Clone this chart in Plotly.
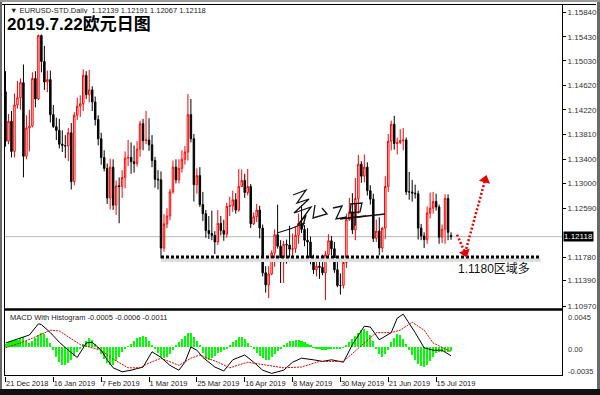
import plotly.graph_objects as go

# ---------------- data ----------------
date_tick_idx = [0, 16, 32, 48, 64, 80, 96, 112, 128, 144]
date_labels = ["21 Dec 2018", "16 Jan 2019", "7 Feb 2019", "1 Mar 2019", "25 Mar 2019",
               "16 Apr 2019", "8 May 2019", "30 May 2019", "21 Jun 2019", "15 Jul 2019"]

opens = [1.1452,1.1370,1.1403,1.1353,1.1430,1.1442,1.1467,1.1345,1.1392,1.1395,
         1.1474,1.1440,1.1545,1.1502,1.1468,1.1472,1.1414,1.1394,1.1388,1.1365,
         1.1363,1.1362,1.1384,1.1303,1.1413,1.1428,1.1432,1.1479,1.1447,1.1455,
         1.1435,1.1406,1.1374,1.1343,1.1325,1.1276,1.1327,1.1264,1.1296,1.1295,
         1.1310,1.1342,1.1343,1.1336,1.1333,1.1357,1.1399,1.1371,1.1372,1.1364,
         1.1338,1.1307,1.1306,1.1193,1.1233,1.1246,1.1286,1.1327,1.1306,1.1325,
         1.1340,1.1352,1.1414,1.1374,1.1298,1.1313,1.1265,1.1250,1.1222,1.1217,
         1.1214,1.1203,1.1234,1.1222,1.1216,1.1262,1.1263,1.1273,1.1256,1.1295,
         1.1305,1.1285,1.1295,1.1233,1.1245,1.1256,1.1226,1.1152,1.1132,1.1150,
         1.1185,1.1215,1.1196,1.1170,1.1199,1.1198,1.1191,1.1192,1.1214,1.1234,
         1.1224,1.1206,1.1203,1.1174,1.1157,1.1163,1.1161,1.1152,1.1182,1.1205,
         1.1192,1.1157,1.1131,1.1131,1.1169,1.1240,1.1253,1.1223,1.1275,1.1332,
         1.1312,1.1327,1.1288,1.1274,1.1209,1.1221,1.1193,1.1226,1.1295,1.1370,
         1.1398,1.1366,1.1368,1.1371,1.1372,1.1286,1.1286,1.1284,1.1283,1.1226,
         1.1213,1.1207,1.1251,1.1259,1.1270,1.1261,1.1211,1.1224,1.1275,1.12139]

highs = [1.1486,1.1415,1.1420,1.1449,1.1470,1.1474,1.1497,1.1413,1.1422,1.1484,
         1.1486,1.1560,1.1570,1.1528,1.1487,1.1487,1.1430,1.1409,1.1407,1.1388,
         1.1380,1.1392,1.1400,1.1418,1.1442,1.1446,1.1489,1.1486,1.1488,1.1461,
         1.1444,1.1413,1.1384,1.1355,1.1333,1.1341,1.1340,1.1305,1.1310,1.1322,
         1.1353,1.1372,1.1368,1.1363,1.1370,1.1404,1.1407,1.1420,1.1408,1.1380,
         1.1344,1.1322,1.1320,1.1249,1.1259,1.1291,1.1338,1.1340,1.1340,1.1355,
         1.1362,1.1448,1.1440,1.1382,1.1325,1.1327,1.1286,1.1256,1.1246,1.1255,
         1.1221,1.1256,1.1246,1.1240,1.1268,1.1278,1.1288,1.1284,1.1324,1.1323,
         1.1316,1.1324,1.1299,1.1252,1.1266,1.1263,1.1232,1.1163,1.1163,1.1189,
         1.1224,1.1265,1.1206,1.1205,1.1207,1.1230,1.1217,1.1228,1.1250,1.1263,
         1.1231,1.1226,1.1212,1.1182,1.1172,1.1172,1.1182,1.1188,1.1216,1.1213,
         1.1203,1.1173,1.1151,1.1180,1.1250,1.1276,1.1284,1.1309,1.1347,1.1337,
         1.1348,1.1335,1.1297,1.1283,1.1240,1.1244,1.1228,1.1312,1.1382,1.1404,
         1.1412,1.1376,1.1390,1.1392,1.1376,1.1319,1.1306,1.1298,1.1288,1.1233,
         1.1219,1.1262,1.1285,1.1286,1.1283,1.1265,1.1232,1.1282,1.1282,1.12191]

lows = [1.1361,1.1365,1.1343,1.1343,1.1424,1.1422,1.1310,1.1340,1.1353,1.1393,
        1.1426,1.1438,1.1484,1.1455,1.1451,1.1401,1.1392,1.1372,1.1358,1.1352,
        1.1342,1.1337,1.1290,1.1297,1.1405,1.1410,1.1420,1.1440,1.1434,1.1420,
        1.1396,1.1363,1.1331,1.1320,1.1266,1.1257,1.1256,1.1248,1.1234,1.1276,
        1.1292,1.1329,1.1316,1.1318,1.1328,1.1344,1.1355,1.1365,1.1354,1.1327,
        1.1293,1.1290,1.1176,1.1187,1.1226,1.1239,1.1283,1.1300,1.1300,1.1318,
        1.1331,1.1338,1.1368,1.1270,1.1283,1.1261,1.1238,1.1210,1.1208,1.1206,
        1.1183,1.1198,1.1214,1.1205,1.1210,1.1246,1.1253,1.1250,1.1253,1.1294,
        1.1276,1.1280,1.1226,1.1231,1.1236,1.1209,1.1146,1.1119,1.1110,1.1148,
        1.1162,1.1192,1.1135,1.1135,1.1167,1.1177,1.1175,1.1185,1.1200,1.1218,
        1.1196,1.1178,1.1166,1.1150,1.1146,1.1142,1.1148,1.1107,1.1180,1.1181,
        1.1152,1.1128,1.1116,1.1126,1.1160,1.1238,1.1216,1.1206,1.1250,1.1301,
        1.1302,1.1280,1.1265,1.1203,1.1203,1.1181,1.1186,1.1208,1.1286,1.1355,
        1.1356,1.1348,1.1365,1.1355,1.1281,1.1273,1.1270,1.1275,1.1207,1.1206,
        1.1193,1.1200,1.1242,1.1250,1.1255,1.1200,1.1201,1.1200,1.1206,1.12067]

closes = [1.1370,1.1403,1.1353,1.1430,1.1442,1.1467,1.1345,1.1392,1.1395,1.1474,
          1.1440,1.1545,1.1502,1.1468,1.1472,1.1414,1.1394,1.1388,1.1365,1.1363,
          1.1362,1.1384,1.1303,1.1413,1.1428,1.1432,1.1479,1.1447,1.1455,1.1435,
          1.1406,1.1374,1.1343,1.1325,1.1276,1.1327,1.1264,1.1296,1.1295,1.1310,
          1.1342,1.1343,1.1336,1.1333,1.1357,1.1399,1.1371,1.1372,1.1364,1.1338,
          1.1307,1.1306,1.1193,1.1233,1.1246,1.1286,1.1327,1.1306,1.1325,1.1340,
          1.1352,1.1414,1.1374,1.1298,1.1313,1.1265,1.1250,1.1222,1.1217,1.1214,
          1.1203,1.1234,1.1222,1.1216,1.1262,1.1263,1.1273,1.1256,1.1295,1.1305,
          1.1285,1.1295,1.1233,1.1245,1.1256,1.1226,1.1152,1.1132,1.1150,1.1185,
          1.1215,1.1196,1.1170,1.1199,1.1198,1.1191,1.1192,1.1214,1.1234,1.1224,
          1.1206,1.1203,1.1174,1.1157,1.1163,1.1161,1.1152,1.1182,1.1205,1.1192,
          1.1157,1.1131,1.1131,1.1169,1.1240,1.1253,1.1223,1.1275,1.1332,1.1312,
          1.1327,1.1288,1.1274,1.1209,1.1221,1.1193,1.1226,1.1295,1.1370,1.1398,
          1.1366,1.1368,1.1371,1.1372,1.1286,1.1286,1.1284,1.1283,1.1226,1.1213,
          1.1207,1.1251,1.1259,1.1270,1.1261,1.1211,1.1224,1.1275,1.1219,1.12118]

hist_values = [0.0004,0.0006,0.0008,0.0009,0.0009,0.0011,0.0012,0.0008,0.0005,0.0007,
               0.0011,0.0015,0.0018,0.0016,0.0011,0.0005,-0.0004,-0.0012,-0.0019,-0.0022,
               -0.0023,-0.0020,-0.0016,-0.0011,-0.0006,-0.0002,0.0004,0.0008,0.0011,0.0009,
               0.0004,-0.0003,-0.0009,-0.0015,-0.0020,-0.0023,-0.0022,-0.0018,-0.0012,-0.0006,
               -0.0002,0.0001,0.0004,0.0008,0.0011,0.0013,0.0014,0.0012,0.0008,0.0003,
               -0.0003,-0.0008,-0.0012,-0.0014,-0.0013,-0.0009,-0.0004,0.0002,0.0006,0.0010,
               0.0014,0.0017,0.0018,0.0013,0.0007,0.0002,-0.0008,-0.0015,-0.0016,-0.0014,
               -0.0011,-0.0008,-0.0006,-0.0004,-0.0002,0.0002,0.0006,0.0009,0.0012,0.0013,
               0.0010,0.0005,0.0001,-0.0003,-0.0007,-0.0011,-0.0014,-0.0016,-0.0016,-0.0013,
               -0.0009,-0.0005,-0.0002,0.0002,0.0005,0.0007,0.0008,0.0009,0.0009,0.0008,
               0.0006,0.0004,0.0002,-0.0001,-0.0002,-0.0003,-0.0004,-0.0004,-0.0003,-0.0003,
               -0.0002,-0.0003,-0.0002,-0.0001,0.0002,0.0006,0.0010,0.0014,0.0018,0.0021,
               0.0023,0.0020,0.0015,0.0008,-0.0003,-0.0009,-0.0012,-0.0009,-0.0004,0.0006,
               0.0011,0.0016,0.0015,0.0010,0.0004,-0.0004,-0.0010,-0.0016,-0.0021,-0.0024,
               -0.0025,-0.0022,-0.0017,-0.0012,-0.0008,-0.0006,-0.0006,-0.0006,-0.0006,-0.0005]

macd_idx = [0,3,8,11,12,15,18,21,24,27,29,32,34,36,39,42,46,49,52,55,
            58,60,62,64,66,70,73,76,80,83,86,89,93,96,99,103,106,109,113,116,
            120,122,125,129,131,133,137,140,143,146,149]
macd_val = [0.0005,0.0009,0.0015,0.0029,0.0028,0.0018,0.0006,-0.0004,-0.0013,0.0005,
            0.0006,-0.0004,-0.0016,-0.0026,-0.0031,-0.0029,-0.0025,-0.0006,-0.0013,-0.0023,
            -0.0029,-0.0019,0.0,-0.0004,-0.0013,-0.0025,-0.0030,-0.0016,-0.0010,-0.0019,
            -0.0029,-0.0033,-0.0029,-0.0019,-0.0014,-0.0016,-0.0018,-0.0016,-0.0019,0.0003,
            0.0026,0.0025,0.0009,0.0018,0.0036,0.0041,0.0018,-0.0001,-0.0004,-0.0004,-0.0011]

signal_idx = [0,5,9,15,18,21,25,28,32,35,41,45,48,52,58,62,65,71,75,81,
              88,93,99,105,113,116,120,124,129,132,136,140,143,146,149]
signal_val = [-0.0001,0.0005,0.0011,0.0021,0.0020,0.0013,0.0003,0.0,-0.0004,-0.0013,
              -0.0026,-0.0026,-0.0020,-0.0014,-0.0023,-0.0014,-0.0010,-0.0019,-0.0026,-0.0019,
              -0.0023,-0.0026,-0.0025,-0.0018,-0.0018,-0.0008,0.0005,0.0018,0.0018,0.0021,
              0.0031,0.0021,0.0005,-0.0001,-0.0006]

price_ticks = [1.15840, 1.15430, 1.15030, 1.14620, 1.14220, 1.13810, 1.13400, 1.13000,
               1.12590, 1.11780, 1.11390, 1.10970]
macd_tick_text = ["0.0045", "0.00", "-0.0035"]

last_close = closes[-1]
support_level = 1.1178
support_range = [52, 179]
arrow_x = [151.0, 153.7, 160.4]
arrow_y = [1.1215, 1.1185, 1.1306]

header_text = "▼ EURUSD-STD,Daily  1.12139 1.12191 1.12067 1.12118"
title_text = "2019.7.22欧元日图"
macd_label = "MACD With Histogram -0.0005 -0.0006 -0.0011"
note_text = "1.1180区域多"

# ---------------- layout helpers (pixel -> paper) ----------------
W, H = 600, 395
ML, MR, MT, MB = 4, 38, 5, 19
PW, PH = W - ML - MR, H - MT - MB


def px(X):
    return (X - ML) / PW


def py(Y):
    return (H - MB - Y) / PH


bar_index = list(range(len(closes)))
x_range = [-0.5, 186.1]

fig = go.Figure()

fig.add_trace(go.Candlestick(
    x=bar_index, open=opens, high=highs, low=lows, close=closes,
    increasing=dict(line=dict(color="#ff0000", width=1), fillcolor="#ffffff"),
    decreasing=dict(line=dict(color="#000000", width=1), fillcolor="#000000"),
    whiskerwidth=0, xaxis="x", yaxis="y", showlegend=False, hoverinfo="skip"))

# support shadow + dotted support line
fig.add_trace(go.Scatter(x=support_range, y=[support_level - 0.0005] * 2, mode="lines",
                         line=dict(color="#dedede", width=4), xaxis="x", yaxis="y",
                         showlegend=False, hoverinfo="skip"))
fig.add_trace(go.Scatter(x=support_range, y=[support_level] * 2, mode="lines",
                         line=dict(color="#000000", width=3, dash="3px,2px"), xaxis="x", yaxis="y",
                         showlegend=False, hoverinfo="skip"))

# red dotted arrow
fig.add_trace(go.Scatter(x=arrow_x, y=arrow_y, mode="lines",
                         line=dict(color="#e60000", width=2.5, dash="2px,2px"), xaxis="x", yaxis="y",
                         showlegend=False, hoverinfo="skip"))
fig.add_trace(go.Scatter(x=[arrow_x[1]], y=[arrow_y[1]], mode="markers",
                         marker=dict(symbol="triangle-down", size=10, color="#e60000", angle=-20),
                         xaxis="x", yaxis="y", showlegend=False, hoverinfo="skip"))
fig.add_trace(go.Scatter(x=[arrow_x[2]], y=[arrow_y[2]], mode="markers",
                         marker=dict(symbol="triangle-up", size=10, color="#e60000", angle=16),
                         xaxis="x", yaxis="y", showlegend=False, hoverinfo="skip"))

# MACD panel
fig.add_trace(go.Bar(x=bar_index, y=hist_values, width=0.7, marker=dict(color="#00ff00", line=dict(width=0)),
                     xaxis="x2", yaxis="y2", showlegend=False, hoverinfo="skip"))
fig.add_trace(go.Scatter(x=macd_idx, y=macd_val, mode="lines", line=dict(color="#000000", width=1),
                         xaxis="x2", yaxis="y2", showlegend=False, hoverinfo="skip"))
fig.add_trace(go.Scatter(x=signal_idx, y=signal_val, mode="lines",
                         line=dict(color="#e00000", width=1, dash="2px,1px"),
                         xaxis="x2", yaxis="y2", showlegend=False, hoverinfo="skip"))

main_dom = [py(308), 1]
macd_dom = [0, py(310)]
fig.update_layout(
    width=W, height=H, margin=dict(l=ML, r=MR, t=MT, b=MB, autoexpand=False),
    paper_bgcolor="white", plot_bgcolor="white",
    font=dict(family="Liberation Sans, Noto Sans CJK SC", color="#222"),
    bargap=0,
    xaxis=dict(domain=[0, 1], range=x_range, anchor="y", showticklabels=False, showgrid=False,
               zeroline=False, rangeslider=dict(visible=False), ticks="", automargin=False),
    yaxis=dict(domain=main_dom, range=[1.109368, 1.159560], side="right", anchor="x",
               tickvals=price_ticks, ticktext=[f"{v:.5f}" for v in price_ticks],
               ticks="outside", ticklen=3, tickcolor="#000", showgrid=False, zeroline=False,
               automargin=False, tickfont=dict(size=8, color="#333", family="Liberation Sans")),
    xaxis2=dict(domain=[0, 1], range=x_range, anchor="y2", showgrid=False, zeroline=False,
                tickvals=date_tick_idx, ticktext=date_labels, ticks="outside", ticklen=5,
                tickcolor="#000", ticklabelposition="outside right", tickangle=0, automargin=False,
                tickfont=dict(size=7.5, color="#222", family="Liberation Sans")),
    yaxis2=dict(domain=macd_dom, range=[-0.003625, 0.004625], side="right", anchor="x2",
                showticklabels=False, showgrid=False, zeroline=False, ticks="", automargin=False),
)

shapes = []
# current price line
shapes.append(dict(type="line", xref="x", yref="y", x0=x_range[0], x1=x_range[1],
                   y0=last_close, y1=last_close, line=dict(color="#b8b8b8", width=1), layer="below"))
# frames
blk = dict(color="#000", width=1)
shapes += [
    dict(type="line", xref="paper", yref="paper", x0=px(0), x1=px(596), y0=py(4.5), y1=py(4.5), line=blk),
    dict(type="line", xref="paper", yref="paper", x0=px(4.5), x1=px(4.5), y0=py(4), y1=py(376), line=blk),
    dict(type="line", xref="paper", yref="paper", x0=px(562.5), x1=px(562.5), y0=py(4), y1=py(376), line=blk),
    dict(type="line", xref="paper", yref="paper", x0=px(4), x1=px(563), y0=py(309.5), y1=py(309.5),
         line=dict(color="#000", width=2.5)),
    dict(type="line", xref="paper", yref="paper", x0=px(4), x1=px(563), y0=py(375.5), y1=py(375.5), line=blk),
    dict(type="rect", xref="paper", yref="paper", x0=px(0), x1=px(2), y0=py(0), y1=py(395),
         line=dict(width=0), fillcolor="#6a6a6a"),
    dict(type="rect", xref="paper", yref="paper", x0=px(597), x1=px(600), y0=py(0), y1=py(395),
         line=dict(width=0), fillcolor="#6a6a6a"),
    dict(type="rect", xref="paper", yref="paper", x0=px(0), x1=px(600), y0=py(0), y1=py(2),
         line=dict(width=0), fillcolor="#9a9a9a"),
    dict(type="rect", xref="paper", yref="paper", x0=px(0), x1=px(600), y0=py(389), y1=py(395),
         line=dict(width=0), fillcolor="#111"),
]


# handwritten signature (decorative strokes)
def path_from(points):
    return "M " + " L ".join(f"{px(a):.5f},{py(b):.5f}" for a, b in points)


strokes = [
    [(277, 233), (290, 229), (305, 223)],
    [(293, 195), (306, 190), (297, 203), (309, 199), (294, 213), (311, 207), (298, 225), (306, 215), (302, 229)],
    [(315, 205), (313, 218), (327, 214), (322, 208)],
    [(333, 208), (342, 206), (336, 219), (347, 217)],
    [(350, 204), (362, 203), (360, 212), (350, 213), (351, 204)],
    [(356, 204), (355, 226)],
    [(348, 218), (366, 216)],
    [(340, 219), (385, 214)],
]
for s in strokes:
    shapes.append(dict(type="path", xref="paper", yref="paper", path=path_from(s),
                       line=dict(color="#111", width=1.3)))
fig.update_layout(shapes=shapes)

ann = [
    dict(text=header_text, x=px(8), y=py(10), xref="paper", yref="paper", xanchor="left", yanchor="middle",
         showarrow=False, font=dict(size=7.5, color="#222")),
    dict(text=f"<b>{title_text}</b>", x=px(6), y=py(24), xref="paper", yref="paper", xanchor="left",
         yanchor="middle", showarrow=False, bgcolor="white", borderpad=0,
         font=dict(size=17, color="#000", family="Liberation Sans, Noto Sans CJK SC")),
    dict(text=macd_label, x=px(8), y=py(317), xref="paper", yref="paper", xanchor="left", yanchor="middle",
         showarrow=False, font=dict(size=7.5, color="#222")),
    dict(text=note_text, x=px(456), y=py(269), xref="paper", yref="paper", xanchor="left", yanchor="middle",
         showarrow=False, font=dict(size=12, color="#111", family="Liberation Sans, Noto Sans CJK SC")),
    dict(text=f"{last_close:.5f}", x=px(563), y=last_close, xref="paper", yref="y", xanchor="left",
         yanchor="middle", showarrow=False, bgcolor="#000", borderpad=0,
         font=dict(size=8, color="#fff", family="Liberation Sans")),
]
macd_label_y = [317, 349, 371]
for t, yy in zip(macd_tick_text, macd_label_y):
    ann.append(dict(text=t, x=px(566), y=py(yy), xref="paper", yref="paper", xanchor="left",
                    yanchor="middle", showarrow=False, font=dict(size=7.5, color="#333")))
fig.update_layout(annotations=ann)

fig.write_html("out.html")
